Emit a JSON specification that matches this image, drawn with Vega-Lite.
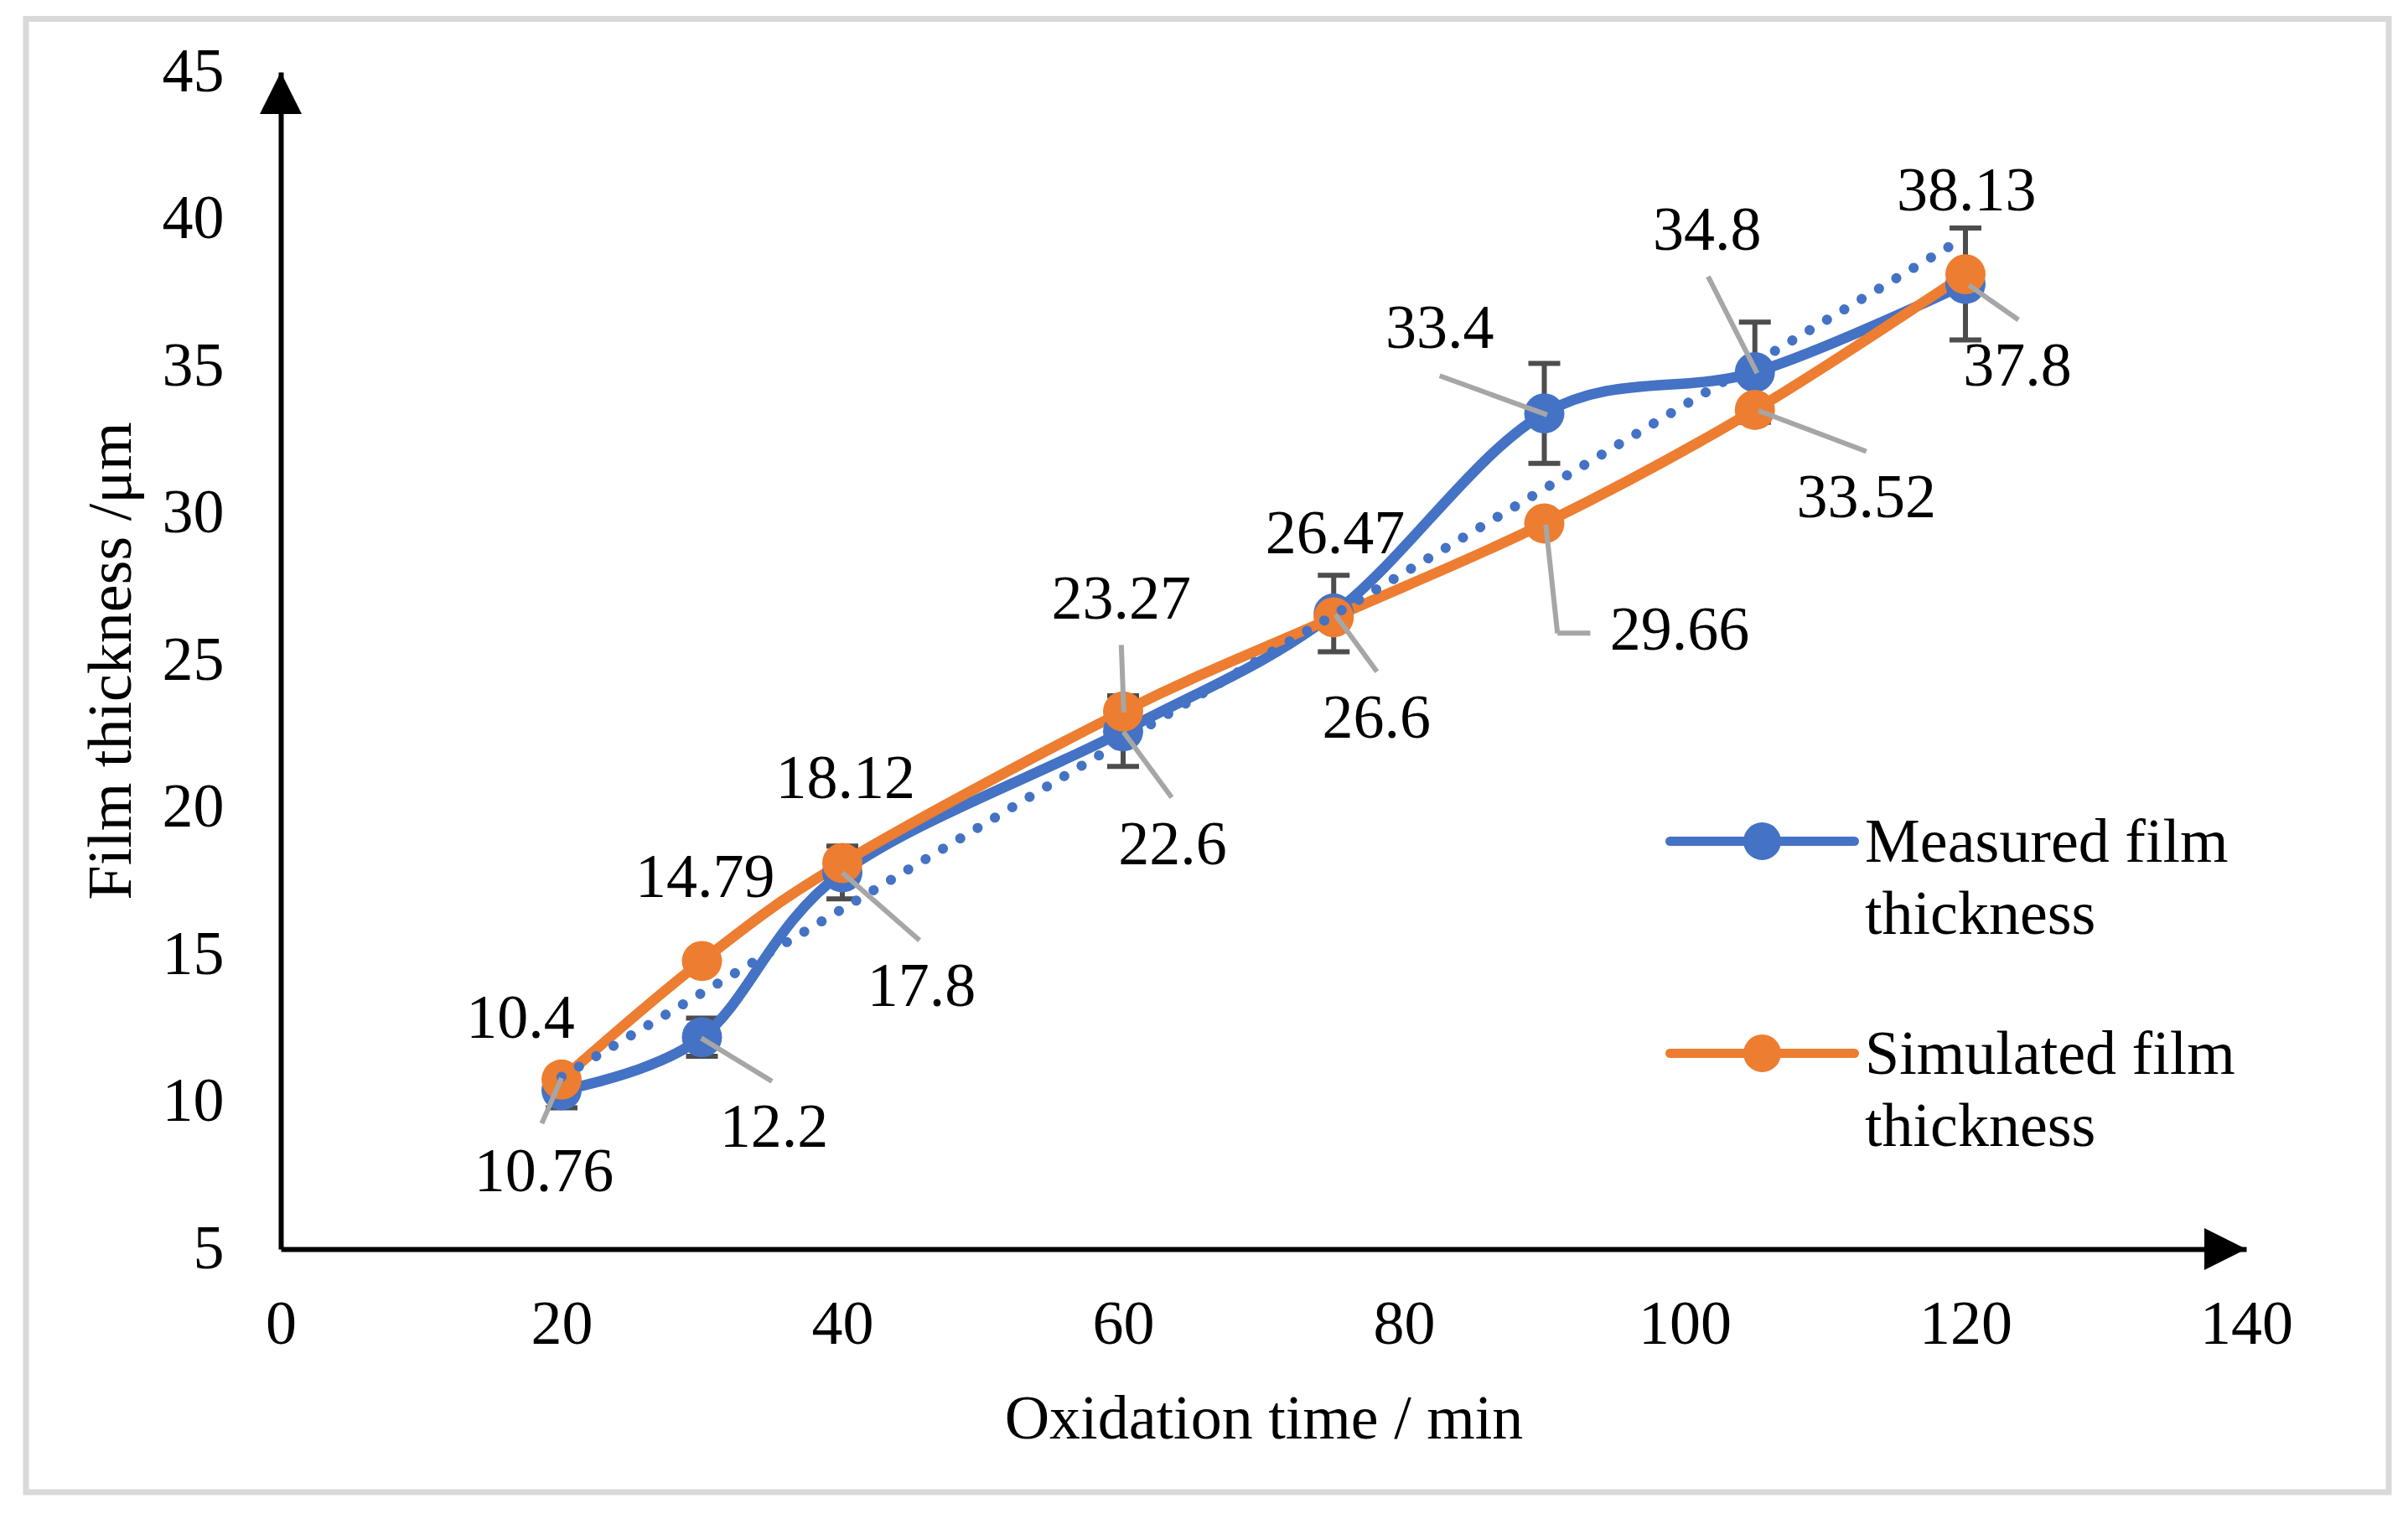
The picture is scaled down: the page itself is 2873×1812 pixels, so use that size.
{
  "$schema": "https://vega.github.io/schema/vega-lite/v6.json",
  "width": 2345,
  "height": 1404,
  "autosize": {"type": "none"},
  "padding": {"left": 335, "top": 86, "right": 193, "bottom": 322},
  "background": "white",
  "config": {
    "view": {"stroke": null},
    "font": "Liberation Serif",
    "axis": {
      "grid": false,
      "ticks": false,
      "domainColor": "black",
      "domainWidth": 6,
      "labelFont": "Liberation Serif",
      "labelFontSize": 74,
      "labelColor": "black",
      "labelFlush": false,
      "labelOverlap": false,
      "titleFont": "Liberation Serif",
      "titleFontSize": 74,
      "titleFontWeight": "normal",
      "titleColor": "black"
    }
  },
  "datasets": {
    "series": [
      {"t": 20, "v": 10.4, "s": "Measured film thickness"},
      {"t": 30, "v": 12.2, "s": "Measured film thickness"},
      {"t": 40, "v": 17.8, "s": "Measured film thickness"},
      {"t": 60, "v": 22.6, "s": "Measured film thickness"},
      {"t": 75, "v": 26.6, "s": "Measured film thickness"},
      {"t": 90, "v": 33.4, "s": "Measured film thickness"},
      {"t": 105, "v": 34.8, "s": "Measured film thickness"},
      {"t": 120, "v": 37.8, "s": "Measured film thickness"},
      {"t": 20, "v": 10.76, "s": "Simulated film thickness"},
      {"t": 30, "v": 14.79, "s": "Simulated film thickness"},
      {"t": 40, "v": 18.12, "s": "Simulated film thickness"},
      {"t": 60, "v": 23.27, "s": "Simulated film thickness"},
      {"t": 75, "v": 26.47, "s": "Simulated film thickness"},
      {"t": 90, "v": 29.66, "s": "Simulated film thickness"},
      {"t": 105, "v": 33.52, "s": "Simulated film thickness"},
      {"t": 120, "v": 38.13, "s": "Simulated film thickness"}
    ],
    "err": [
      {"t": 20, "lo": 9.8, "hi": 11.0},
      {"t": 30, "lo": 11.55, "hi": 12.85},
      {"t": 40, "lo": 16.9, "hi": 18.7},
      {"t": 60, "lo": 21.4, "hi": 23.8},
      {"t": 75, "lo": 25.3, "hi": 27.9},
      {"t": 90, "lo": 31.7, "hi": 35.1},
      {"t": 105, "lo": 33.1, "hi": 36.5},
      {"t": 120, "lo": 35.9, "hi": 39.7}
    ],
    "trend": [
      {"t": 20, "v": 10.85},
      {"t": 120, "v": 39.4}
    ],
    "labels": [
      {"text": "10.4", "t": 17.07, "v": 12.82},
      {"text": "10.76", "t": 18.75, "v": 7.59},
      {"text": "12.2", "t": 35.13, "v": 9.1},
      {"text": "14.79", "t": 30.23, "v": 17.6},
      {"text": "18.12", "t": 40.22, "v": 20.95},
      {"text": "17.8", "t": 45.64, "v": 13.89},
      {"text": "23.27", "t": 59.87, "v": 27.05},
      {"text": "22.6", "t": 63.52, "v": 18.7},
      {"text": "26.47", "t": 75.1, "v": 29.28},
      {"text": "26.6", "t": 78.05, "v": 23.0},
      {"text": "33.4", "t": 82.55, "v": 36.24},
      {"text": "29.66", "t": 99.64, "v": 26.0},
      {"text": "34.8", "t": 101.6, "v": 39.6},
      {"text": "33.52", "t": 112.94, "v": 30.5},
      {"text": "38.13", "t": 120.07, "v": 40.93},
      {"text": "37.8", "t": 123.7, "v": 34.96}
    ],
    "leaders": [
      {"t": 20.0, "v": 10.81, "t2": 18.59, "v2": 9.27},
      {"t": 29.95, "v": 12.17, "t2": 34.99, "v2": 10.7},
      {"t": 40.0, "v": 17.79, "t2": 45.5, "v2": 15.49},
      {"t": 60.05, "v": 23.24, "t2": 59.87, "v2": 25.53},
      {"t": 60.02, "v": 22.58, "t2": 63.46, "v2": 20.35},
      {"t": 75.1, "v": 26.57, "t2": 78.08, "v2": 24.62},
      {"t": 90.11, "v": 29.62, "t2": 90.94, "v2": 25.93},
      {"t": 90.94, "v": 25.93, "t2": 93.28, "v2": 25.93},
      {"t": 90.2, "v": 33.35, "t2": 82.55, "v2": 34.68},
      {"t": 105.16, "v": 34.77, "t2": 101.67, "v2": 38.05},
      {"t": 105.27, "v": 33.49, "t2": 112.94, "v2": 32.11},
      {"t": 120.24, "v": 37.76, "t2": 123.77, "v2": 36.58}
    ]
  },
  "layer": [
    {
      "data": {"values": [{}]},
      "mark": {"type": "rect", "filled": false, "color": "#d9d9d9", "strokeWidth": 7},
      "encoding": {
        "x": {"datum": -18.15, "type": "quantitative", "scale": {"domain": [0, 140], "nice": false},
          "axis": {"values": [0, 20, 40, 60, 80, 100, 120, 140], "labelBaseline": "alphabetic", "labelPadding": 112,
            "title": "Oxidation time / min", "titleBaseline": "alphabetic", "titleY": 225}},
        "x2": {"datum": 150.15},
        "y": {"datum": 46.81, "type": "quantitative", "scale": {"domain": [5, 45], "nice": false},
          "axis": {"values": [5, 10, 15, 20, 25, 30, 35, 40, 45], "labelAlign": "right", "labelBaseline": "middle", "labelPadding": 68,
            "title": "Film thickness /μm", "titleAngle": 270, "titleBaseline": "alphabetic", "titleAlign": "center", "titleX": -180, "titleY": 702}},
        "y2": {"datum": -3.26}
      }
    },
    {
      "data": {"name": "err"},
      "mark": {"type": "rule", "color": "#4d4d4d", "strokeWidth": 6},
      "encoding": {
        "x": {"field": "t", "type": "quantitative"},
        "y": {"field": "lo", "type": "quantitative"},
        "y2": {"field": "hi"}
      }
    },
    {
      "data": {"name": "err"},
      "mark": {"type": "tick", "orient": "horizontal", "color": "#4d4d4d", "size": 38, "thickness": 6, "opacity": 1},
      "encoding": {
        "x": {"field": "t", "type": "quantitative"},
        "y": {"field": "lo", "type": "quantitative"}
      }
    },
    {
      "data": {"name": "err"},
      "mark": {"type": "tick", "orient": "horizontal", "color": "#4d4d4d", "size": 38, "thickness": 6, "opacity": 1},
      "encoding": {
        "x": {"field": "t", "type": "quantitative"},
        "y": {"field": "hi", "type": "quantitative"}
      }
    },
    {
      "data": {"name": "series"},
      "mark": {"type": "line", "interpolate": "cardinal", "tension": 0, "strokeWidth": 12.5},
      "encoding": {
        "x": {"field": "t", "type": "quantitative"},
        "y": {"field": "v", "type": "quantitative"},
        "color": {"field": "s", "type": "nominal",
          "scale": {"domain": ["Measured film thickness", "Simulated film thickness"], "range": ["#4472c4", "#ed7d31"]},
          "legend": {
            "orient": "none",
            "legendX": 1652,
            "legendY": 802,
            "title": null,
            "padding": 0,
            "symbolType": "M-1,0L1,0M-0.154,0A0.154,0.154,0,1,1,0.154,0A0.154,0.154,0,1,1,-0.154,0Z",
            "symbolSize": 48400,
            "symbolStrokeWidth": 11,
            "symbolOpacity": 1,
            "labelFont": "Liberation Serif",
            "labelFontSize": 74,
            "labelColor": "black",
            "labelOffset": 7,
            "labelLimit": 2000,
            "rowPadding": 12,
            "labelExpr": "datum.label == 'Measured film thickness' ? ['Measured film', 'thickness'] : ['Simulated film', 'thickness']",
            "encode": {
              "symbols": {"update": {
                "fill": {"scale": "color", "field": "value"},
                "stroke": {"scale": "color", "field": "value"},
                "strokeWidth": {"value": 11},
                "strokeCap": {"value": "round"}
              }},
              "labels": {"update": {
                "baseline": {"value": "alphabetic"},
                "dy": {"value": 24},
                "lineHeight": {"value": 86}
              }}
            }
          }}
      }
    },
    {
      "data": {"name": "series"},
      "mark": {"type": "point", "shape": "circle", "filled": true, "size": 2300, "opacity": 1},
      "encoding": {
        "x": {"field": "t", "type": "quantitative"},
        "y": {"field": "v", "type": "quantitative"},
        "color": {"field": "s", "type": "nominal"}
      }
    },
    {
      "data": {"name": "trend"},
      "mark": {"type": "line", "color": "#4472c4", "strokeWidth": 12, "strokeCap": "round", "strokeDash": [0.1, 24]},
      "encoding": {
        "x": {"field": "t", "type": "quantitative"},
        "y": {"field": "v", "type": "quantitative"}
      }
    },
    {
      "data": {"name": "leaders"},
      "mark": {"type": "rule", "color": "#a6a6a6", "strokeWidth": 6},
      "encoding": {
        "x": {"field": "t", "type": "quantitative"},
        "y": {"field": "v", "type": "quantitative"},
        "x2": {"field": "t2"},
        "y2": {"field": "v2"}
      }
    },
    {
      "data": {"name": "labels"},
      "mark": {"type": "text", "font": "Liberation Serif", "fontSize": 74, "color": "black", "align": "center", "baseline": "middle"},
      "encoding": {
        "x": {"field": "t", "type": "quantitative"},
        "y": {"field": "v", "type": "quantitative"},
        "text": {"field": "text"}
      }
    },
    {
      "data": {"values": [{}]},
      "mark": {"type": "point", "shape": "M0,0L-1,2L1,2Z", "filled": true, "size": 2500, "color": "black", "opacity": 1},
      "encoding": {
        "x": {"datum": 0, "type": "quantitative"},
        "y": {"datum": 45, "type": "quantitative"}
      }
    },
    {
      "data": {"values": [{}]},
      "mark": {"type": "point", "shape": "M0,0L-2,-1L-2,1Z", "filled": true, "size": 2500, "color": "black", "opacity": 1},
      "encoding": {
        "x": {"datum": 140, "type": "quantitative"},
        "y": {"datum": 5, "type": "quantitative"}
      }
    }
  ]
}
